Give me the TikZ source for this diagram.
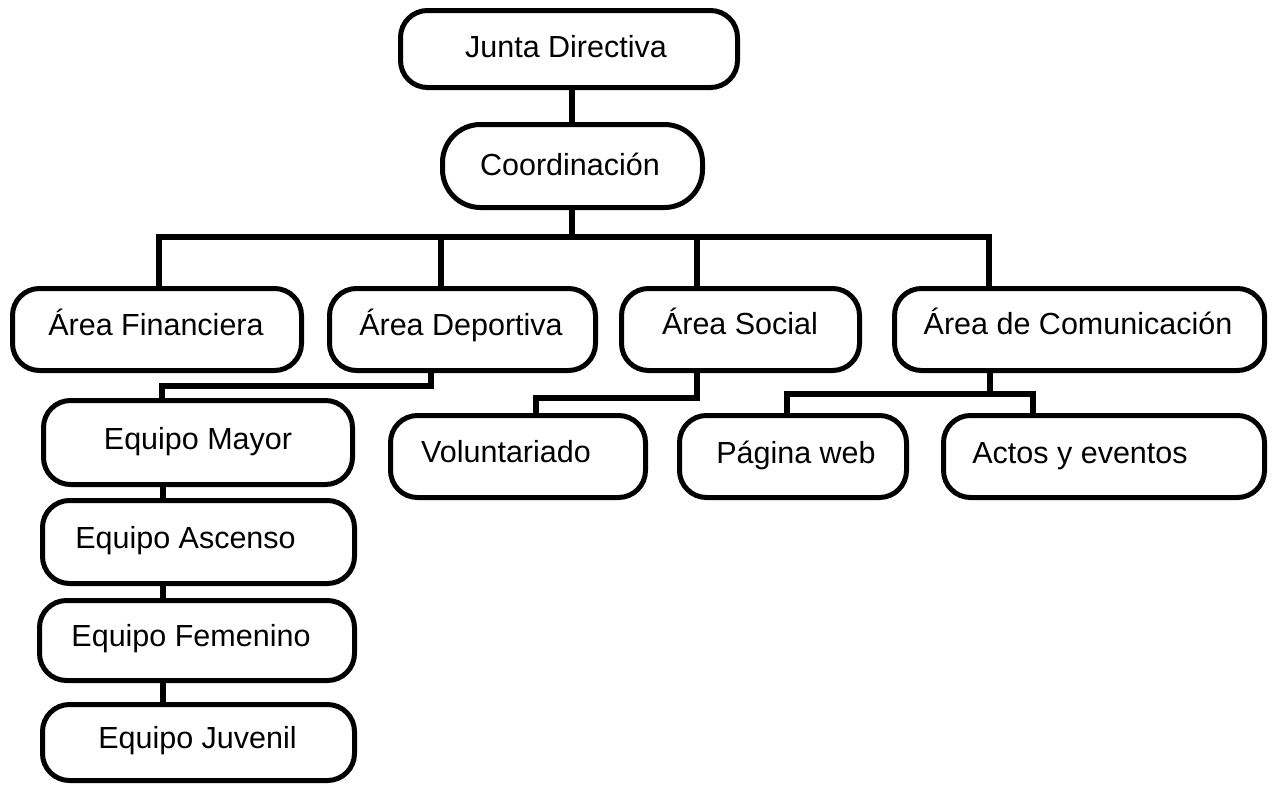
\documentclass[tikz,border=0pt]{standalone}
\usepackage{fontspec}
\setmainfont{Liberation Sans}
\begin{document}
\begin{tikzpicture}[x=1pt,y=-1pt,
 box/.style={draw, line width=5pt, rounded corners=27pt, inner sep=0pt},
 lbl/.style={anchor=base, font=\fontsize{30.5}{36}\selectfont, inner sep=0pt},
 link/.style={line width=5.5pt}]
\useasboundingbox[fill=white] (0,0) rectangle (1273,787);
% boxes
\node[box, minimum width=337pt, minimum height=77pt] (junta) at (569,49) {};
\node[box, rounded corners=38pt, minimum width=260pt, minimum height=83pt] (coord) at (572.5,166) {};
\node[box, minimum width=289pt, minimum height=82pt] (fin) at (157,329.5) {};
\node[box, minimum width=266pt, minimum height=82pt] (dep) at (462.5,329.5) {};
\node[box, minimum width=238pt, minimum height=82pt] (soc) at (740.5,329.5) {};
\node[box, minimum width=370pt, minimum height=82pt] (com) at (1079.5,329.5) {};
\node[box, minimum width=309pt, minimum height=84pt] (mayor) at (198,442.5) {};
\node[box, minimum width=312pt, minimum height=83pt] (asc) at (198.5,542) {};
\node[box, minimum width=315pt, minimum height=80pt] (fem) at (197,640.5) {};
\node[box, minimum width=312pt, minimum height=76pt] (juv) at (198.5,742.5) {};
\node[box, minimum width=255pt, minimum height=82pt] (vol) at (518,456.5) {};
\node[box, minimum width=227pt, minimum height=82pt] (pag) at (793,456.5) {};
\node[box, minimum width=321pt, minimum height=82pt] (act) at (1104,456.5) {};
% texts
\node[lbl] (tjunta) at (566,57) {Junta Directiva};
\node[lbl] (tcoord) at (570,175) {Coordinación};
\node[lbl] (tfin) at (156,335) {Área Financiera};
\node[lbl] (tdep) at (461,335) {Área Deportiva};
\node[lbl] (tsoc) at (740,334) {Área Social};
\node[lbl] (tcom) at (1078,334) {Área de Comunicación};
\node[lbl] (tmayor) at (198,449) {Equipo Mayor};
\node[lbl] (tasc) at (185.5,548) {Equipo Ascenso};
\node[lbl] (tfem) at (191,646) {Equipo Femenino};
\node[lbl] (tjuv) at (197.5,748) {Equipo Juvenil};
\node[lbl] (tvol) at (506,462) {Voluntariado};
\node[lbl] (tpag) at (796,463) {Página web};
\node[lbl] (tact) at (1080,463) {Actos y eventos};
% connectors
\draw[link] (coord.north -| 572,0) -- (junta.south -| 572,0);
\coordinate (bar) at (572,237);
\draw[link] (coord.south -| bar) -- (bar);
\coordinate (bf) at (159,237);
\coordinate (bd) at (441,237);
\coordinate (bs) at (697,237);
\coordinate (bc) at (989,237);
\draw[link] (bf |- fin.north) -- (bf) -- (bc) -- (bc |- com.north);
\draw[link] (bd) -- (bd |- dep.north);
\draw[link] (bs) -- (bs |- soc.north);
% Deportiva -> Equipo Mayor
\coordinate (dk) at (431,386);
\coordinate (mk) at (162,386);
\draw[link] (dk |- dep.south) -- (dk) -- (mk) -- (mk |- mayor.north);
% Social -> Voluntariado
\coordinate (sk) at (697,398);
\coordinate (vk) at (536,398);
\draw[link] (sk |- soc.south) -- (sk) -- (vk) -- (vk |- vol.north);
% Comunicacion -> Pagina web, Actos
\coordinate (ck) at (990,394);
\coordinate (pk) at (787,394);
\coordinate (ak) at (1033,394);
\draw[link] (ck |- com.south) -- (ck);
\draw[link] (pk |- pag.north) -- (pk) -- (ak) -- (ak |- act.north);
% team chain
\coordinate (ek) at (163,0);
\draw[link] (ek |- mayor.south) -- (ek |- asc.north);
\draw[link] (ek |- asc.south) -- (ek |- fem.north);
\draw[link] (ek |- fem.south) -- (ek |- juv.north);
\end{tikzpicture}
\end{document}
